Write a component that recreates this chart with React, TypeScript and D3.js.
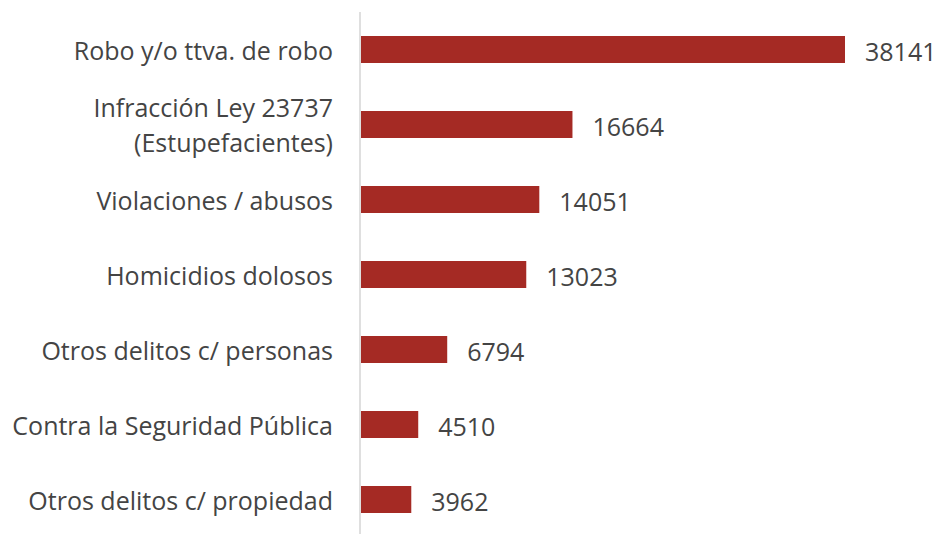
import React, { useEffect, useRef } from "react";
import * as d3 from "d3";

const categories = [
  ["Robo y/o ttva. de robo"],
  ["Infracción Ley 23737", "(Estupefacientes)"],
  ["Violaciones / abusos"],
  ["Homicidios dolosos"],
  ["Otros delitos c/ personas"],
  ["Contra la Seguridad Pública"],
  ["Otros delitos c/ propiedad"],
];
const values = [38141, 16664, 14051, 13023, 6794, 4510, 3962];

const W = 935;
const H = 534;
const BAR = "#a52a24";
const TEXT = "#444444";
const FONT = "'Open Sans', sans-serif";
const FS = 25;

export default function App() {
  const svgRef = useRef<SVGSVGElement>(null);

  useEffect(() => {
    document.body.style.margin = "0";
    const svg = d3.select(svgRef.current);
    svg.selectAll("*").remove();

    const x0 = 361;
    const X = d3.scaleLinear().domain([0, 38141]).range([x0, 845]);
    const Y = d3
      .scaleBand<number>()
      .domain(d3.range(values.length))
      .range([12, 537])
      .paddingInner(0.64)
      .paddingOuter(0.32);

    svg
      .append("line")
      .attr("x1", 360)
      .attr("x2", 360)
      .attr("y1", 12)
      .attr("y2", H)
      .attr("stroke", "#d4d4d4")
      .attr("stroke-width", 1.5);

    svg
      .selectAll("rect.bar")
      .data(values)
      .enter()
      .append("rect")
      .attr("class", "bar")
      .attr("x", x0)
      .attr("y", (_, i) => Y(i)!)
      .attr("width", (d) => X(d) - x0)
      .attr("height", Y.bandwidth())
      .attr("fill", BAR);

    svg
      .selectAll("text.val")
      .data(values)
      .enter()
      .append("text")
      .attr("class", "val")
      .attr("x", (d) => X(d) + 20)
      .attr("y", (_, i) => Y(i)! + Y.bandwidth() / 2 + 1)
      .attr("dominant-baseline", "central")
      .attr("font-family", FONT)
      .attr("font-size", FS)
      .attr("fill", TEXT)
      .text((d) => String(d));

    const labels = svg
      .selectAll("text.cat")
      .data(categories)
      .enter()
      .append("text")
      .attr("class", "cat")
      .attr("text-anchor", "end")
      .attr("font-family", FONT)
      .attr("font-size", FS)
      .attr("fill", TEXT);

    labels.each(function (lines, i) {
      const cy = Y(i)! + Y.bandwidth() / 2;
      const lh = 35;
      lines.forEach((t, j) => {
        d3.select(this)
          .append("tspan")
          .attr("x", 333)
          .attr("y", cy + (j - (lines.length - 1) / 2) * lh)
          .attr("dominant-baseline", "central")
          .text(t);
      });
    });
  }, []);

  return <svg ref={svgRef} width={W} height={H} style={{ display: "block", background: "#fff" }} />;
}
